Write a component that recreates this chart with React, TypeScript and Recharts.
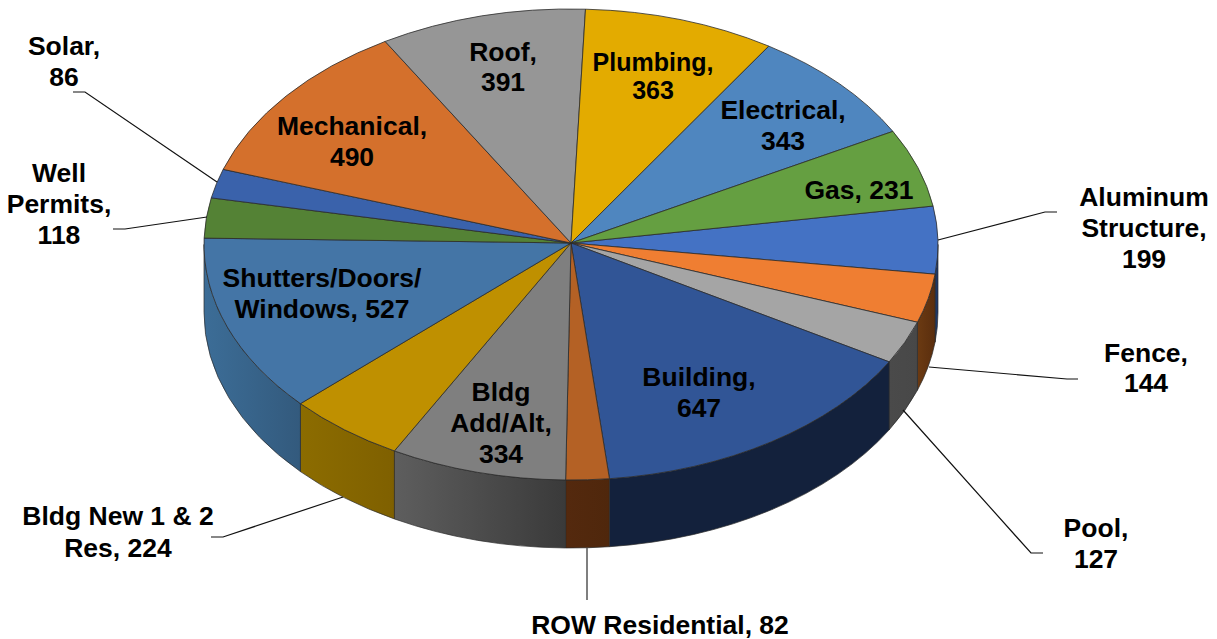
import { PieChart, Pie } from "recharts";

const categories = [
  "Aluminum Structure", "Fence", "Pool", "Building", "ROW Residential",
  "Bldg Add/Alt", "Bldg New 1 & 2 Res", "Shutters/Doors/Windows", "Well Permits",
  "Solar", "Mechanical", "Roof", "Plumbing", "Electrical", "Gas",
];
const values = [199, 144, 127, 647, 82, 334, 224, 527, 118, 86, 490, 391, 363, 343, 231];

const labelText = [
  ["Aluminum", "Structure,", "199"],
  ["Fence,", "144"],
  ["Pool,", "127"],
  ["Building,", "647"],
  ["ROW Residential, 82"],
  ["Bldg", "Add/Alt,", "334"],
  ["Bldg New 1 & 2", "Res, 224"],
  ["Shutters/Doors/", "Windows, 527"],
  ["Well", "Permits,", "118"],
  ["Solar,", "86"],
  ["Mechanical,", "490"],
  ["Roof,", "391"],
  ["Plumbing,", "363"],
  ["Electrical,", "343"],
  ["Gas, 231"],
];

const topColors = [
  "#4472c4", "#ef7e32", "#a5a5a5", "#315596", "#b46125", "#7f7f7f", "#bf9000", "#4475a6",
  "#548235", "#3a62ab", "#d4702c", "#969696", "#e3ab00", "#4f86bf", "#659f41",
];
const wallLeft = [
  "#1d3767", "#6b3a12", "#4a4a4a", "#13213c", "#54290e", "#5e5e5e", "#8c6c00", "#3c6d97",
  "#333", "#333", "#333", "#333", "#333", "#333", "#333",
];
const wallRight = [
  "#1d3767", "#5a2e0e", "#484848", "#13213c", "#4f270c", "#3a3a3a", "#7f6000", "#335a7d",
  "#333", "#333", "#333", "#333", "#333", "#333", "#333",
];

// label anchor: centre x, y of the first line
const labelX = [1144, 1146, 1096, 699, 660, 501, 118, 322, 59, 64, 352, 503, 653, 783, 859];
const labelY = [197, 353, 528, 377, 625, 392, 516, 278, 173, 46, 126, 52, 62, 110, 190];
const labelSize = [26.5, 26.5, 26.5, 26.5, 26.5, 26.5, 26.5, 26.5, 26.5, 26.5, 26.5, 26.5, 25, 26.5, 26.5];
const lineGap = [31, 30, 31, 31, 31, 31, 32, 31, 31, 31, 31, 30, 28, 31, 31];

const leaders: Record<number, string> = {
  0: "1057,212 1045,212 938,240",
  1: "1078,379 1067,379 929,367",
  2: "1043,553 1031,553 903,410",
  4: "587,548 587,600",
  6: "211,537 223,537 343,497",
  8: "113,229 125,229 207,217",
  9: "73,92 85,92 217,182",
};

const data = categories.map((name, i) => ({ name, value: values[i] }));

const RX = 367;
const RY = 235.5;
const RIM_SHIFT = 1.5; // rim sits a little lower than the hub
const DEPTH = 68;
const RAD = Math.PI / 180;

function SliceShape(props: any) {
  const { cx, cy, startAngle, endAngle, index } = props;
  const pt = (a: number, dy = 0) =>
    `${cx + RX * Math.cos(a * RAD)} ${cy + RIM_SHIFT - RY * Math.sin(a * RAD) + dy}`;
  const large = Math.abs(startAngle - endAngle) > 180 ? 1 : 0;
  const top = `M${cx} ${cy} L${pt(startAngle)} A${RX} ${RY} 0 ${large} 1 ${pt(endAngle)} Z`;

  // side wall only shows on the front half
  const a1 = Math.min(startAngle, 0);
  const a2 = Math.max(endAngle, -180);
  let wall = null;
  if (a1 > a2) {
    const d =
      `M${pt(a1)} A${RX} ${RY} 0 0 1 ${pt(a2)} L${pt(a2, DEPTH)} ` +
      `A${RX} ${RY} 0 0 0 ${pt(a1, DEPTH)} Z`;
    wall = (
      <>
        <linearGradient id={`wall${index}`} x1="0" y1="0" x2="1" y2="0">
          <stop offset="0" stopColor={wallLeft[index]} />
          <stop offset="1" stopColor={wallRight[index]} />
        </linearGradient>
        <path d={d} fill={`url(#wall${index})`} stroke="#2b2b2b" strokeWidth={0.7} />
      </>
    );
  }
  return (
    <g>
      {wall}
      <path d={top} fill={topColors[index]} stroke="#2b2b2b" strokeWidth={0.8} />
    </g>
  );
}

function SliceLabel(props: any) {
  const { index } = props;
  const gray = index === 4;
  return (
    <g>
      {leaders[index] && (
        <polyline
          points={leaders[index]}
          fill="none"
          stroke={gray ? "#555" : "#111"}
          strokeWidth={gray ? 1.5 : 1.2}
        />
      )}
      <text
        textAnchor="middle"
        fontFamily="Liberation Sans"
        fontWeight="bold"
        fontSize={labelSize[index]}
        fill="#000"
      >
        {labelText[index].map((line, i) => (
          <tspan
            key={i}
            x={labelX[index]}
            y={labelY[index] + i * lineGap[index]}
            dominantBaseline="central"
          >
            {line}
          </tspan>
        ))}
      </text>
    </g>
  );
}

export default function App() {
  return (
    <div style={{ position: "absolute", left: 0, top: 0, width: 1217, height: 639 }}>
      <PieChart width={1217} height={639} margin={{ top: 0, right: 0, bottom: 0, left: 0 }}>
        <Pie
          data={data}
          dataKey="value"
          nameKey="name"
          cx={571}
          cy={243}
          outerRadius={RX}
          startAngle={9.4}
          endAngle={-350.6}
          shape={SliceShape}
          label={SliceLabel}
          labelLine={false}
          isAnimationActive={false}
        />
      </PieChart>
    </div>
  );
}
